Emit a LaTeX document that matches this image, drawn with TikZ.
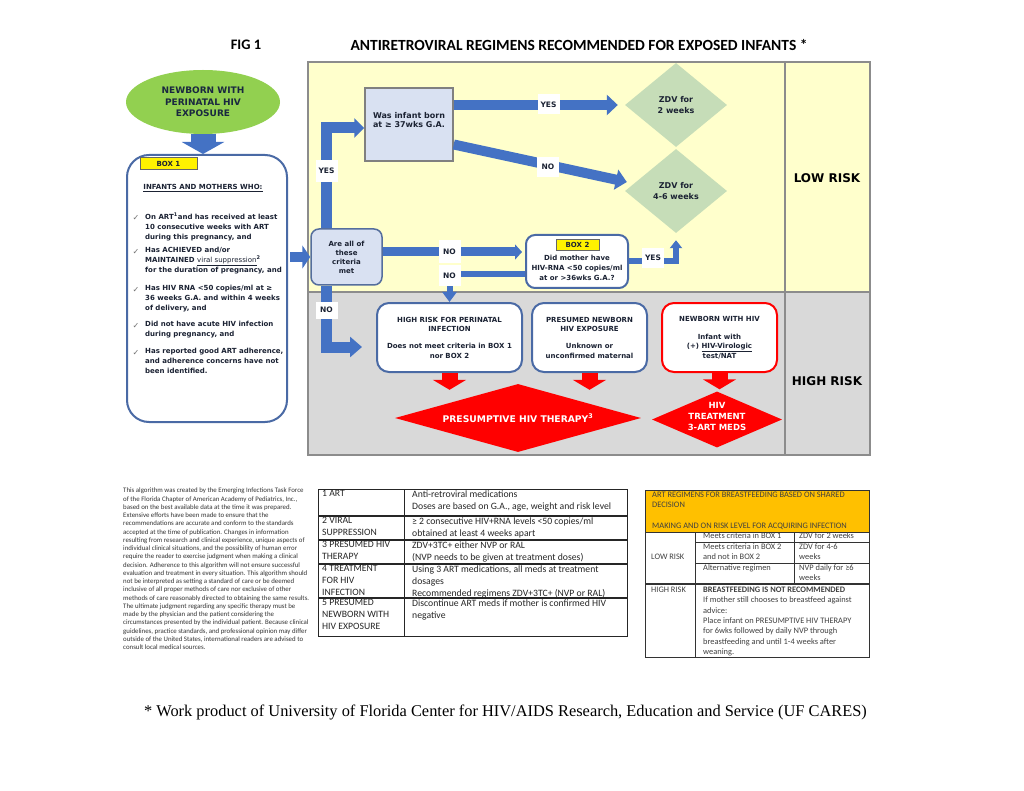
\documentclass[tikz,border=0pt]{standalone}
\usepackage{fontspec}
\setmainfont{DejaVu Sans}
\newfontfamily\calfont{Carlito}
\newfontfamily\timesfont{Liberation Serif}
\usetikzlibrary{arrows.meta,shapes.geometric,calc}

\definecolor{panelyellow}{HTML}{FFFFCC}
\definecolor{panelgray}{HTML}{D9D9D9}
\definecolor{framegray}{HTML}{8C8C8C}
\definecolor{arrowblue}{HTML}{4472C4}
\definecolor{boxblue}{HTML}{4A6AA5}
\definecolor{askfill}{HTML}{D9E1F2}
\definecolor{zdvgreen}{HTML}{C6DDB8}
\definecolor{newborngreen}{HTML}{92D050}
\definecolor{hivred}{HTML}{FF0000}
\definecolor{ink}{HTML}{1B2233}
\definecolor{navyink}{HTML}{1A2840}
\definecolor{orangehead}{HTML}{FFC000}

\tikzset{
  headtext/.style={font=\calfont\bfseries\fontsize{14.5}{16}\selectfont},
  flow/.style={draw=arrowblue, line width=10pt, -{Triangle[length=11pt,width=20pt]}},
  redarrow/.style={draw=hivred, line width=16pt, -{Triangle[length=10pt,width=33pt]}},
  lbl/.style={fill=white, inner sep=0pt, minimum width=22pt, minimum height=20pt,
    font=\bfseries\fontsize{7.5}{9}\selectfont, text=ink},
  boxtag/.style={fill=yellow, draw=black!60, line width=0.6pt, inner sep=0pt,
    font=\bfseries\fontsize{7}{8}\selectfont, text=ink},
  askbox/.style={fill=askfill, line width=1.5pt, align=center, inner sep=0pt, text=ink},
  outcome/.style={draw=boxblue, line width=2pt, fill=white, rounded corners=12pt, align=center,
    inner sep=0pt, minimum width=115pt, minimum height=69pt,
    font=\bfseries\fontsize{7}{9.5}\selectfont, text=ink},
  zdv/.style={diamond, aspect=1.2, fill=zdvgreen, minimum width=102pt, minimum height=84pt,
    inner sep=0pt, align=center, font=\bfseries\fontsize{8}{11}\selectfont, text=ink},
  reddiamond/.style={diamond, fill=hivred, inner sep=0pt, align=center, text=white},
  risk/.style={font=\bfseries\fontsize{12}{14}\selectfont, text=black},
  bul/.style={anchor=north west, inner sep=0pt, align=left, font=\bfseries\fontsize{7}{10.2}\selectfont, text=ink},
  chk/.style={inner sep=0pt, text=black!55, font=\fontsize{8}{9}\selectfont},
  cell/.style={anchor=north west, inner sep=0pt, align=left, font=\calfont\fontsize{9.7}{11.8}\selectfont, text=black!85},
  rcell/.style={anchor=north west, inner sep=0pt, align=left, font=\calfont\fontsize{8.4}{10.4}\selectfont, text=black!75},
}

\begin{document}
\begin{tikzpicture}[x=1pt, y=-1pt, line join=miter]
\useasboundingbox (0,0) rectangle (1024,791);
\fill[white] (0,0) rectangle (1024,791);

% titles
\node[headtext] (fig) at (246,45) {FIG 1};
\node[headtext, font=\calfont\bfseries\fontsize{15.5}{17}\selectfont] (heading) at (579,45) {ANTIRETROVIRAL REGIMENS RECOMMENDED FOR EXPOSED INFANTS *};

% risk panels
\fill[panelyellow] (308,62) rectangle (870,292);
\fill[panelgray] (308,292) rectangle (870,455);
\draw[framegray, line width=2pt] (308,62) rectangle (870,455);
\draw[framegray, line width=2pt] (308,292) -- (870,292);
\draw[framegray, line width=2pt] (785,62) -- (785,455);
\node[risk] (low) at (827,178) {LOW RISK};
\node[risk] (high) at (827,381) {HIGH RISK};

% start and box 1
\node[ellipse, fill=newborngreen, minimum width=154pt, minimum height=64pt, inner sep=0pt, align=center,
  text=navyink, font=\bfseries\fontsize{9}{11.5}\selectfont] (newborn) at (203,102)
  {NEWBORN WITH\\PERINATAL HIV\\EXPOSURE};
\node[draw=boxblue, line width=2pt, fill=white, rounded corners=22pt, minimum width=160pt,
  minimum height=267pt] (box1) at (207,288.5) {};
\draw[flow, line width=25pt, -{Triangle[length=12pt,width=42pt]}] (newborn.south) -- (newborn.south |- box1.north);
\node[boxtag, minimum width=57pt, minimum height=12pt] (tag1) at (168.5,163.5) {BOX 1};
\node[font=\bfseries\fontsize{7}{8}\selectfont, text=ink] (who) at (203,188) {\underline{INFANTS AND MOTHERS WHO:}};

\node[chk] (c1) at (136,218) {✓};
\node[bul] (b1) at (145,212.5) {On ART\textsuperscript{1}and has received at least\\10 consecutive weeks with ART\\during this pregnancy, and};
\node[chk] (c2) at (136,252) {✓};
\node[bul] (b2) at (145,246.5) {Has ACHIEVED and/or\\MAINTAINED {\mdseries\underline{viral suppression}}\textsuperscript{2}\\for the duration of pregnancy, and};
\node[chk] (c3) at (136,290) {✓};
\node[bul] (b3) at (145,284.5) {Has HIV RNA <50 copies/ml at ≥\\36 weeks G.A. and within 4 weeks\\of delivery, and};
\node[chk] (c4) at (136,326) {✓};
\node[bul] (b4) at (145,320.5) {Did not have acute HIV infection\\during pregnancy, and};
\node[chk] (c5) at (136,353) {✓};
\node[bul] (b5) at (145,347.5) {Has reported good ART adherence,\\and adherence concerns have not\\been identified.};

% questions
\node[askbox, draw=boxblue!80!gray, rounded corners=8pt, minimum width=71pt, minimum height=56pt,
  font=\bfseries\fontsize{7}{9}\selectfont] (crit) at (346.5,257) {Are all of\\these\\criteria\\met};
\node[askbox, draw=black!50, minimum width=88pt, minimum height=73pt] (born) at (409,124.5) {};
\node[align=center, inner sep=0pt, text=ink, font=\bfseries\fontsize{8}{9}\selectfont] (borntxt) at (409,120.5)
  {Was infant born\\at ≥ 37wks G.A.};
\node[outcome, minimum width=102pt, minimum height=53pt, rounded corners=9pt] (box2) at (577,261.5) {};
\node[boxtag, minimum width=43pt, minimum height=11pt] (tag2) at (577.5,244.5) {BOX 2};
\node[font=\bfseries\fontsize{7}{10}\selectfont, align=center, text=ink, inner sep=0pt] (q2) at (577,268)
  {Did mother have\\HIV-RNA <50 copies/ml\\at or >36wks G.A.?};

% regimens
\node[zdv] (zdv2) at (676,105) {ZDV for\\2 weeks};
\node[zdv] (zdv46) at (676,191) {ZDV for\\4-6 weeks};
\node[outcome, minimum width=145pt] (hrisk) at (449.5,337.5)
  {HIGH RISK FOR PERINATAL\\INFECTION\\[7.5pt]Does not meet criteria in BOX 1\\nor BOX 2};
\node[outcome] (presumed) at (589.5,337.5)
  {PRESUMED NEWBORN\\HIV EXPOSURE\\[7.5pt]Unknown or\\unconfirmed maternal};
\node[outcome, draw=hivred, font=\bfseries\fontsize{7}{9.5}\selectfont] (hivpos) at (719.5,337.5)
  {NEWBORN WITH HIV\\[8.5pt]Infant with\\(+) \underline{HIV-Virologic}\\test/NAT};
\node[reddiamond, aspect=3.6, minimum width=246pt, minimum height=68pt,
  font=\bfseries\fontsize{9.2}{11}\selectfont] (therapy) at (518,418) {PRESUMPTIVE HIV THERAPY\textsuperscript{3}};
\node[reddiamond, minimum width=130pt, minimum height=56pt] (treat) at (717,419.5) {};
\node[text=white, align=center, inner sep=0pt, font=\bfseries\fontsize{8.5}{11}\selectfont] (treattxt) at (717,416)
  {HIV\\TREATMENT\\3-ART MEDS};

% blue arrows
\draw[flow, shorten <=2pt, -{Triangle[length=8pt,width=23pt]}] (box1.east |- crit.west) -- (crit.west);
\draw[flow, line width=11pt, -{Triangle[length=10pt,width=19pt]}] ([xshift=-20.5pt]crit.north) |- ([yshift=-3.5pt]born.west);
\draw[flow] (born.east |- zdv2.west) -- ([xshift=-7pt]zdv2.west);
\draw[flow] ([yshift=-20pt]born.east) -- ([xshift=2pt,yshift=9pt]zdv46.west);
\draw[flow, line width=9pt, -{Triangle[length=7pt,width=15pt]}] ([yshift=5pt]crit.east) -- ([xshift=-3pt,yshift=9.5pt]box2.west);
\draw[flow, line width=6pt, -{Triangle[length=10pt,width=14pt]}] ([yshift=-12.5pt]box2.west) -| (hrisk.north);
\draw[flow, line width=6pt, -{Triangle[length=8pt,width=12pt]}] (box2.east) -| ([yshift=-7pt]zdv46.south);
\draw[flow, line width=11pt, -{Triangle[length=12pt,width=20pt]}] ([xshift=-20.5pt]crit.south) |- ([xshift=-14pt,yshift=-9.5pt]hrisk.west);

% red arrows
\draw[redarrow] (hrisk.south) -- ($(hrisk.south |- therapy.north)+(0,6)$);
\draw[redarrow] (presumed.south) -- ($(presumed.south |- therapy.north)+(0,6)$);
\draw[redarrow] (hivpos.south) -- ($(hivpos.south |- treat.north)+(0,-2)$);

% yes / no labels
\node[lbl, minimum height=22pt] (yes1) at (326.5,171) {YES};
\node[lbl] (yes2) at (548.5,104.5) {YES};
\node[lbl] (no1) at (548,167) {NO};
\node[lbl, minimum height=23pt] (no2) at (449.5,251.5) {NO};
\node[lbl, minimum height=21pt] (no3) at (449.5,276) {NO};
\node[lbl] (yes3) at (653,258) {YES};
\node[lbl, minimum height=17pt] (no4) at (326.5,310) {NO};

% disclaimer
\node[anchor=north west, inner sep=0pt, align=left, font=\calfont\fontsize{6.85}{8.25}\selectfont, text=black!80] (note) at (123,488)
  {This algorithm was created by the Emerging Infections Task Force\\
   of the Florida Chapter of American Academy of Pediatrics, Inc.,\\
   based on the best available data at the time it was prepared.\\
   Extensive efforts have been made to ensure that the\\
   recommendations are accurate and conform to the standards\\
   accepted at the time of publication. Changes in information\\
   resulting from research and clinical experience, unique aspects of\\
   individual clinical situations, and the possibility of human error\\
   require the reader to exercise judgment when making a clinical\\
   decision. Adherence to this algorithm will not ensure successful\\
   evaluation and treatment in every situation. This algorithm should\\
   not be interpreted as setting a standard of care or be deemed\\
   inclusive of all proper methods of care nor exclusive of other\\
   methods of care reasonably directed to obtaining the same results.\\
   The ultimate judgment regarding any specific therapy must be\\
   made by the physician and the patient considering the\\
   circumstances presented by the individual patient. Because clinical\\
   guidelines, practice standards, and professional opinion may differ\\
   outside of the United States, international readers are advised to\\
   consult local medical sources.};

% definitions table
\draw[black!85, line width=1pt] (318,489) rectangle (627,636);
\draw[black!85, line width=1pt] (404,489) -- (404,636);
\draw[black!85, line width=1.6pt] (318,516) -- (627,516);
\draw[black!85, line width=1.6pt] (318,540) -- (627,540);
\draw[black!85, line width=1.6pt] (318,564) -- (627,564);
\draw[black!85, line width=1.6pt] (318,598) -- (627,598);
\node[cell] (t1a) at (322,490.5) {1 ART};
\node[cell] (t1b) at (412,490.5) {Anti-retroviral medications\\Doses are based on G.A., age, weight and risk level};
\node[cell] (t2a) at (322,517.5) {2 VIRAL\\SUPPRESSION};
\node[cell] (t2b) at (412,517.5) {≥ 2 consecutive HIV+RNA levels <50 copies/ml\\obtained at least 4 weeks apart};
\node[cell] (t3a) at (322,541.5) {3 PRESUMED HIV\\THERAPY};
\node[cell] (t3b) at (412,541.5) {ZDV+3TC+ either NVP or RAL\\(NVP needs to be given at treatment doses)};
\node[cell] (t4a) at (322,565.5) {4 TREATMENT\\FOR HIV\\INFECTION};
\node[cell] (t4b) at (412,565.5) {Using 3 ART medications, all meds at treatment\\dosages\\Recommended regimens ZDV+3TC+ (NVP or RAL)};
\node[cell] (t5a) at (322,599.5) {5 PRESUMED\\NEWBORN WITH\\HIV EXPOSURE};
\node[cell] (t5b) at (412,599.5) {Discontinue ART meds if mother is confirmed HIV\\negative};

% breastfeeding table
\fill[orangehead] (645,490) rectangle (869,532);
\draw[black!80, line width=1pt] (645,490) rectangle (869,657);
\draw[black!80, line width=1pt] (645,532) -- (869,532);
\draw[black!80, line width=1pt] (695,532) -- (695,657);
\draw[black!80, line width=1pt] (794,532) -- (794,584);
\draw[black!80, line width=1pt] (695,542) -- (869,542);
\draw[black!80, line width=1pt] (695,563) -- (869,563);
\draw[black!80, line width=1.6pt] (645,584) -- (869,584);
\node[rcell] (bfhead) at (652,491.5) {ART REGIMENS FOR BREASTFEEDING BASED ON SHARED\\DECISION\\[10.4pt]MAKING AND ON RISK LEVEL FOR ACQUIRING INFECTION};
\node[rcell] (bflow) at (651,553.5) {LOW RISK};
\node[rcell] (bf1a) at (703,532.5) {Meets criteria in BOX 1};
\node[rcell] (bf1b) at (799,532.5) {ZDV for 2 weeks};
\node[rcell] (bf2a) at (703,543.5) {Meets criteria in BOX 2\\and not in BOX 2};
\node[rcell] (bf2b) at (799,543.5) {ZDV for 4-6\\weeks};
\node[rcell] (bf3a) at (703,564.5) {Alternative regimen};
\node[rcell] (bf3b) at (799,564.5) {NVP daily for ≥6\\weeks};
\node[rcell] (bfhigh) at (651,586.5) {HIGH RISK};
\node[rcell] (bfhightxt) at (703,586.5) {\textbf{BREASTFEEDING IS NOT RECOMMENDED}\\If mother still chooses to breastfeed against\\advice:\\Place infant on PRESUMPTIVE HIV THERAPY\\for 6wks followed by daily NVP through\\breastfeeding and until 1-4 weeks after\\weaning.};

% credit line
\node[font=\timesfont\fontsize{16.4}{18}\selectfont] (credit) at (505.5,712)
  {* Work product of University of Florida Center for HIV/AIDS Research, Education and Service (UF CARES)};
\end{tikzpicture}
\end{document}
